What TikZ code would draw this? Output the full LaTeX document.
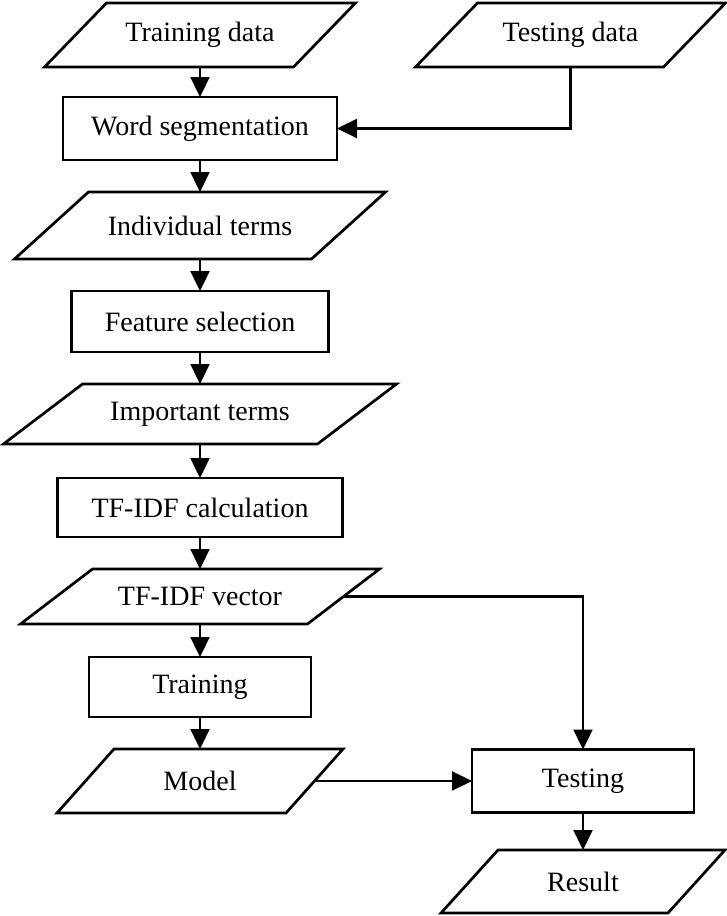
\documentclass[tikz,border=0pt]{standalone}
\usepackage{fontspec}
\setmainfont{Liberation Serif}
\usetikzlibrary{arrows.meta}

% outline of an input/output parallelogram around a named node
% #1 = node name, #2 = half of the horizontal slant
\newcommand{\ioframe}[2]{%
  \draw[ioline] ([xshift=#2]#1.north west) -- ([xshift=#2]#1.north east)
    -- ([xshift=-#2]#1.south east) -- ([xshift=-#2]#1.south west) -- cycle;}

\begin{document}
\begin{tikzpicture}[x=1pt,y=-1pt,
  every node/.style={font=\fontsize{28}{32}\selectfont, inner sep=0pt, outer sep=0pt},
  procbox/.style={draw, line width=2.7pt},
  iobox/.style={draw=none},
  ioline/.style={line width=2.7pt},
  flow/.style={line width=2.3pt, -{Triangle[length=20pt,width=19pt]}}]

\useasboundingbox (0,0) rectangle (726,916);

% left column
\node[iobox, minimum width=249pt, minimum height=64pt] (td) at (200,35) {Training data};
\node[procbox, minimum width=274pt, minimum height=63pt] (ws) at (200,128.5) {Word segmentation};
\node[iobox, minimum width=297pt, minimum height=67pt] (it) at (200,225.5) {Individual terms};
\node[procbox, minimum width=257pt, minimum height=61pt] (fs) at (200,321.5) {Feature selection};
\node[iobox, minimum width=314pt, minimum height=60pt] (imp) at (200,414) {Important terms};
\node[procbox, minimum width=285pt, minimum height=59pt] (tc) at (200,507.5) {TF-IDF calculation};
\node[iobox, minimum width=287pt, minimum height=55pt] (tv) at (200,596.5) {TF-IDF vector};
\node[procbox, minimum width=222pt, minimum height=60pt] (tr) at (200,687) {Training};
\node[iobox, minimum width=229pt, minimum height=64pt] (md) at (200,781) {Model};

% right column
\node[iobox, minimum width=248pt, minimum height=64pt] (sd) at (570.5,35) {Testing data};
\node[procbox, minimum width=222pt, minimum height=63pt] (ts) at (583,781) {Testing};
\node[iobox, minimum width=227pt, minimum height=63pt] (rs) at (583,881.5) {Result};

% parallelogram outlines
\ioframe{td}{31pt}
\ioframe{sd}{31pt}
\ioframe{it}{37pt}
\ioframe{imp}{39.5pt}
\ioframe{tv}{36pt}
\ioframe{md}{28.5pt}
\ioframe{rs}{28.5pt}

% connectors
\draw[flow] (td) -- (ws);
\draw[flow] (sd.south) |- (ws.east);
\draw[flow] (ws) -- (it);
\draw[flow] (it) -- (fs);
\draw[flow] (fs) -- (imp);
\draw[flow] (imp) -- (tc);
\draw[flow] (tc) -- (tv);
\draw[flow] (tv) -- (tr);
\draw[flow] (tr) -- (md);
\draw[flow] (tv.east) -| (ts.north);
\draw[flow] (md.east) -- (ts.west);
\draw[flow] (ts) -- (rs);
\end{tikzpicture}
\end{document}
